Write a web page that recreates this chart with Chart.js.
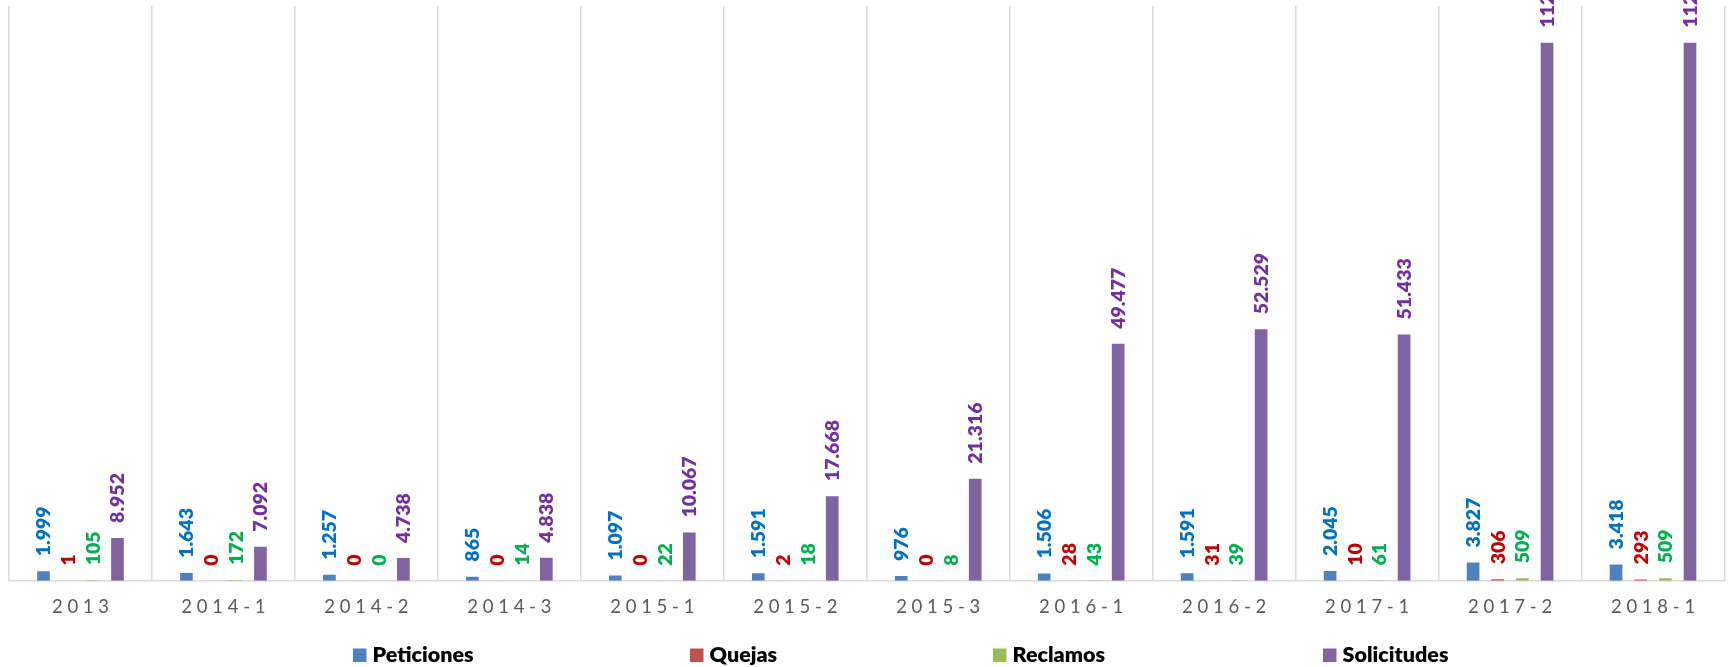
<!DOCTYPE html>
<html>
<head>
<meta charset="utf-8">
<script src="https://cdn.jsdelivr.net/npm/chart.js@4.4.1/dist/chart.umd.min.js"></script>
<style>
  html, body { margin: 0; padding: 0; background: #fff; }
  #wrap { width: 1729px; height: 667px; }
</style>
</head>
<body>
<div id="wrap"><canvas id="pqrsChart" width="1729" height="667"></canvas></div>
<script>
// Periods and series (PQRS por periodo)
const periods = ["2013", "2014-1", "2014-2", "2014-3", "2015-1", "2015-2", "2015-3", "2016-1", "2016-2", "2017-1", "2017-2", "2018-1"];
const peticiones = [1999, 1643, 1257, 865, 1097, 1591, 976, 1506, 1591, 2045, 3827, 3418];
const quejas = [1, 0, 0, 0, 0, 2, 0, 28, 31, 10, 306, 293];
const reclamos = [105, 172, 0, 14, 22, 18, 8, 43, 39, 61, 509, 509];
const solicitudes = [8952, 7092, 4738, 4838, 10067, 17668, 21316, 49477, 52529, 51433, 112340, 112340];

const barColors = ["#4F81BD", "#C0504D", "#9BBB59", "#8064A2"];
const labelColors = ["#0070C0", "#C00000", "#00B050", "#7030A0"];

function formatThousands(v) {
  return String(v).replace(/\B(?=(\d{3})+(?!\d))/g, ".");
}

// Rotated value labels above each bar
const valueLabels = {
  id: "valueLabels",
  afterDatasetsDraw(chart) {
    const ctx = chart.ctx;
    ctx.save();
    ctx.font = "800 19.5px Lato";
    ctx.textAlign = "left";
    ctx.textBaseline = "alphabetic";
    chart.data.datasets.forEach((ds, i) => {
      const meta = chart.getDatasetMeta(i);
      ctx.fillStyle = labelColors[i];
      meta.data.forEach((bar, j) => {
        ctx.save();
        ctx.translate(bar.x + 7, bar.y - 15);
        ctx.rotate(-Math.PI / 2);
        ctx.fillText(formatThousands(ds.data[j]), 0, 0);
        ctx.restore();
      });
    });
    ctx.restore();
  }
};

// Legend spread along the bottom like the original
const bottomLegend = {
  id: "bottomLegend",
  afterDraw(chart, args, opts) {
    const ctx = chart.ctx;
    ctx.save();
    ctx.font = "800 21.5px Lato";
    ctx.textAlign = "left";
    ctx.textBaseline = "alphabetic";
    chart.data.datasets.forEach((ds, i) => {
      const x = opts.x[i];
      ctx.fillStyle = ds.backgroundColor;
      ctx.fillRect(x, opts.baseline - 13.5, 13.5, 13.5);
      ctx.fillStyle = "#000000";
      ctx.fillText(ds.label, x + 19.5, opts.baseline);
    });
    ctx.restore();
  }
};

const ctx = document.getElementById("pqrsChart").getContext("2d");
new Chart(ctx, {
  type: "bar",
  data: {
    labels: periods,
    datasets: [
      { label: "Peticiones", data: peticiones, backgroundColor: barColors[0] },
      { label: "Quejas", data: quejas, backgroundColor: barColors[1] },
      { label: "Reclamos", data: reclamos, backgroundColor: barColors[2] },
      { label: "Solicitudes", data: solicitudes, backgroundColor: barColors[3] },
    ],
  },
  options: {
    responsive: false,
    animation: false,
    datasets: {
      bar: {
        categoryPercentage: 0.69,
        barPercentage: 0.514,
      },
    },
    layout: {
      padding: { left: 9, right: 4.5, top: 6, bottom: 34 },
    },
    scales: {
      x: {
        grid: {
          offset: true,
          drawTicks: false,
          color: "#D9D9D9",
          lineWidth: 1.5,
        },
        border: { color: "#D9D9D9", width: 1.5 },
        ticks: {
          padding: 15,
          color: "#595959",
          font: { family: "Lato", size: 18.5 },
          maxRotation: 0,
          autoSkip: false,
          callback: function (val) {
            return this.getLabelForValue(val).split("").join(" ");
          },
        },
      },
      y: {
        display: false,
        min: 0,
        max: 120000,
      },
    },
    plugins: {
      legend: { display: false },
      tooltip: { enabled: false },
      bottomLegend: { x: [353, 690, 993, 1323], baseline: 662 },
    },
  },
  plugins: [valueLabels, bottomLegend],
});
</script>
</body>
</html>
